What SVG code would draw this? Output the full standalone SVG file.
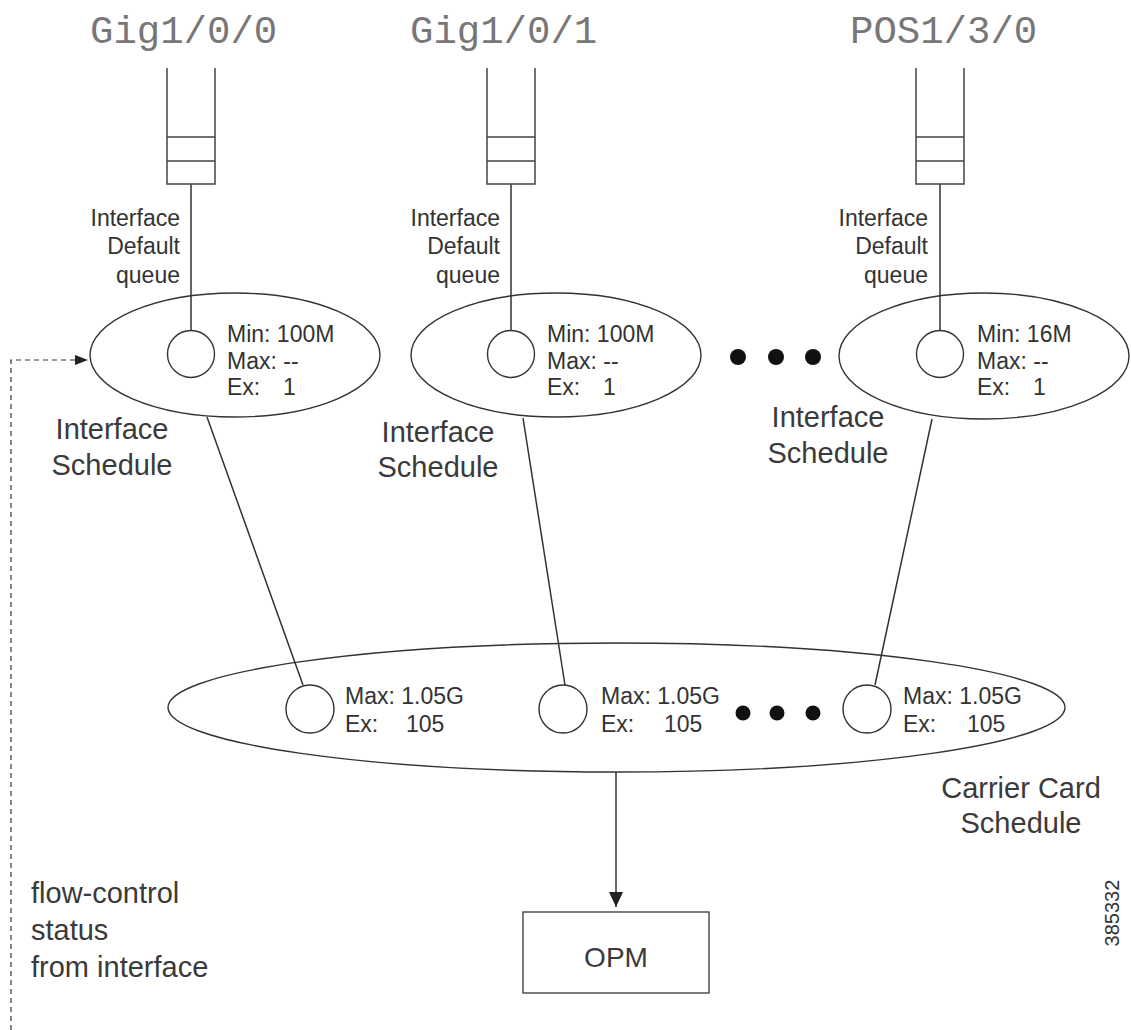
<svg xmlns="http://www.w3.org/2000/svg" width="1131" height="1030" viewBox="0 0 1131 1030">
<style>
.ln{stroke:#333;stroke-width:1.5;fill:none}
.sh{stroke:#333;stroke-width:1.4;fill:#fff}
.q{stroke:#444;stroke-width:1.5;fill:none}
.port{font-family:"Liberation Mono",monospace;font-size:39px;fill:#777}
.sm{font-family:"Liberation Sans",Arial,sans-serif;font-size:23px;fill:#333}
.lg{font-family:"Liberation Sans",Arial,sans-serif;font-size:29px;fill:#3a3a3a}
.dot{fill:#111}
</style>
<defs>
<marker id="ah" markerWidth="16" markerHeight="14" refX="15" refY="7" orient="auto" markerUnits="userSpaceOnUse">
<path d="M0,0 L15,7 L0,14 Z" fill="#222"/>
</marker>
<marker id="ahs" markerWidth="14" markerHeight="12" refX="13" refY="5" orient="auto" markerUnits="userSpaceOnUse">
<path d="M0,0 L13,5 L0,10 Z" fill="#222"/>
</marker>
</defs>
<rect width="1131" height="1030" fill="#fff"/>

<g id="connectors">
<line class="ln" x1="191" y1="184" x2="191" y2="330"/>
<line class="ln" x1="511" y1="184" x2="511" y2="330"/>
<line class="ln" x1="940" y1="184" x2="940" y2="330"/>
<line class="ln" x1="207" y1="417" x2="303" y2="685"/>
<line class="ln" x1="523" y1="418" x2="565" y2="685"/>
<line class="ln" x1="932" y1="419" x2="875" y2="685"/>
<line class="ln" x1="616" y1="772" x2="616" y2="907" marker-end="url(#ah)"/>
<path d="M11,1030 L11,360 L88,360" fill="none" stroke="#333" stroke-width="1.2" stroke-dasharray="5 4" marker-end="url(#ahs)"/>
</g>

<g id="port-gig100">
<text class="port" x="90" y="43">Gig1/0/0</text>
<path class="q" d="M167,68 V184 H215 V68 M167,137 H215 M167,161 H215"/>
<text class="sm" text-anchor="end"><tspan x="180" y="226">Interface</tspan><tspan x="180" y="254">Default</tspan><tspan x="180" y="283">queue</tspan></text>
</g>
<g id="port-gig101">
<text class="port" x="410" y="43">Gig1/0/1</text>
<path class="q" d="M487,68 V184 H535 V68 M487,137 H535 M487,161 H535"/>
<text class="sm" text-anchor="end"><tspan x="500" y="226">Interface</tspan><tspan x="500" y="254">Default</tspan><tspan x="500" y="283">queue</tspan></text>
</g>
<g id="port-pos130">
<text class="port" x="850" y="43">POS1/3/0</text>
<path class="q" d="M916,68 V184 H964 V68 M916,137 H964 M916,161 H964"/>
<text class="sm" text-anchor="end"><tspan x="928" y="226">Interface</tspan><tspan x="928" y="254">Default</tspan><tspan x="928" y="283">queue</tspan></text>
</g>

<g id="if-sched-1">
<ellipse cx="235" cy="355" rx="145" ry="62" fill="none" stroke="#333" stroke-width="1.4"/>
<circle class="sh" cx="191" cy="354" r="23.5"/>
<text class="sm"><tspan x="227" y="342">Min: 100M</tspan><tspan x="227" y="369">Max: --</tspan><tspan x="227" y="395">Ex:</tspan><tspan x="283" y="395">1</tspan></text>
<text class="lg" text-anchor="middle"><tspan x="112" y="439">Interface</tspan><tspan x="112" y="475">Schedule</tspan></text>
</g>
<g id="if-sched-2">
<ellipse cx="556" cy="355" rx="145" ry="62" fill="none" stroke="#333" stroke-width="1.4"/>
<circle class="sh" cx="511" cy="354" r="23.5"/>
<text class="sm"><tspan x="547" y="342">Min: 100M</tspan><tspan x="547" y="369">Max: --</tspan><tspan x="547" y="395">Ex:</tspan><tspan x="603" y="395">1</tspan></text>
<text class="lg" text-anchor="middle"><tspan x="438" y="442">Interface</tspan><tspan x="438" y="477">Schedule</tspan></text>
</g>
<g id="if-dots">
<circle class="dot" cx="738" cy="357" r="8"/>
<circle class="dot" cx="776" cy="357" r="8"/>
<circle class="dot" cx="813" cy="357" r="8"/>
</g>
<g id="if-sched-3">
<ellipse cx="984" cy="356" rx="145" ry="63" fill="none" stroke="#333" stroke-width="1.4"/>
<circle class="sh" cx="940" cy="354" r="23.5"/>
<text class="sm"><tspan x="977" y="342">Min: 16M</tspan><tspan x="977" y="369">Max: --</tspan><tspan x="977" y="395">Ex:</tspan><tspan x="1033" y="395">1</tspan></text>
<text class="lg" text-anchor="middle"><tspan x="828" y="427">Interface</tspan><tspan x="828" y="463">Schedule</tspan></text>
</g>

<g id="carrier-card">
<ellipse cx="616.5" cy="707.5" rx="448.5" ry="64.5" fill="none" stroke="#333" stroke-width="1.4"/>
<circle class="sh" cx="310" cy="709" r="24"/>
<text class="sm"><tspan x="345" y="704">Max: 1.05G</tspan><tspan x="345" y="732">Ex:</tspan><tspan x="406" y="732">105</tspan></text>
<circle class="sh" cx="563" cy="709" r="24"/>
<text class="sm"><tspan x="601" y="704">Max: 1.05G</tspan><tspan x="601" y="732">Ex:</tspan><tspan x="664" y="732">105</tspan></text>
<circle class="dot" cx="743" cy="713" r="7.5"/>
<circle class="dot" cx="777" cy="713" r="7.5"/>
<circle class="dot" cx="813" cy="713" r="7.5"/>
<circle class="sh" cx="867" cy="709" r="24"/>
<text class="sm"><tspan x="903" y="704">Max: 1.05G</tspan><tspan x="903" y="732">Ex:</tspan><tspan x="967" y="732">105</tspan></text>
<text class="lg" text-anchor="middle"><tspan x="1021" y="798">Carrier Card</tspan><tspan x="1021" y="833">Schedule</tspan></text>
</g>

<g id="opm">
<rect x="523" y="912" width="186" height="81" fill="#fff" stroke="#444" stroke-width="1.4"/>
<text class="lg" x="616" y="967" text-anchor="middle" style="font-size:28px">OPM</text>
</g>

<g id="flow-label">
<text class="lg"><tspan x="31" y="903">flow-control</tspan><tspan x="31" y="940">status</tspan><tspan x="31" y="977">from interface</tspan></text>
</g>

<text x="1119" y="913" transform="rotate(-90 1119 913)" text-anchor="middle" font-family="Liberation Sans, Arial, sans-serif" font-size="20" fill="#333">385332</text>
</svg>
